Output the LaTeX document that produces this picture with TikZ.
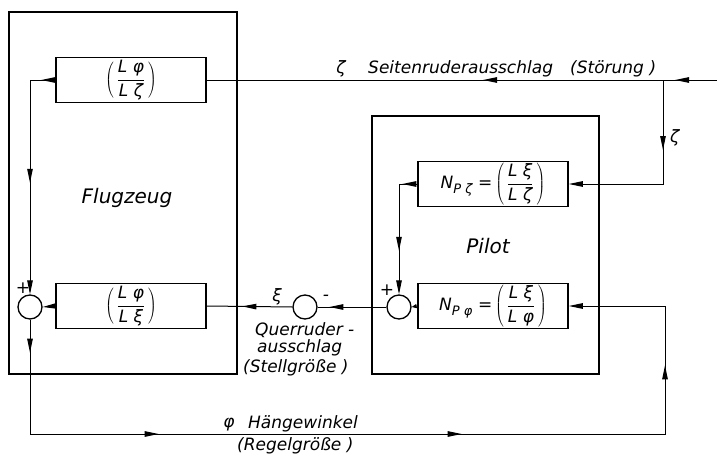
\documentclass[tikz,border=0pt]{standalone}
\usepackage{fontspec}
\setmainfont{DejaVu Sans}
\usetikzlibrary{arrows.meta,decorations.markings}
\begin{document}
\begin{tikzpicture}[x=1pt,y=-1pt,
  >={Triangle[length=14pt,width=5.5pt]},
  conn/.style={line width=1pt},
  outerbox/.style={draw, line width=2pt, inner sep=0pt},
  blockbox/.style={draw, line width=1.5pt, minimum width=150pt, minimum height=45pt, inner sep=0pt, font=\fontsize{17}{20}\selectfont\itshape},
  sumnode/.style={draw, circle, line width=1.3pt, minimum size=24pt, inner sep=0pt},
  lbl/.style={font=\fontsize{17}{20}\selectfont\itshape, inner sep=0pt},
  biglbl/.style={font=\fontsize{20}{24}\selectfont\itshape, inner sep=0pt},
]
\useasboundingbox (0,0) rectangle (717,455);
% outer boxes
\node[outerbox, minimum width=228pt, minimum height=362pt] (FZ) at (123,193) {};
\node[outerbox, minimum width=227pt, minimum height=258pt] (PI) at (485.5,245) {};
% blocks
\node[blockbox] (B1) at (131,80) {$\displaystyle\left(\mkern3mu\frac{\mbox{L φ}}{\mbox{L ζ}}\mkern3mu\right)$};
\node[blockbox] (B2) at (131,306) {$\displaystyle\left(\mkern3mu\frac{\mbox{L φ}}{\mbox{L ξ}}\mkern3mu\right)$};
\node[blockbox] (B3) at (493,184) {N\raisebox{-5pt}{\fontsize{13}{13}\selectfont P ζ}\,\,=\,$\displaystyle\left(\mkern3mu\frac{\mbox{L ξ}}{\mbox{L ζ}}\mkern3mu\right)$};
\node[blockbox] (B4) at (493,306) {N\raisebox{-5pt}{\fontsize{13}{13}\selectfont P φ}\,\,=\,$\displaystyle\left(\mkern3mu\frac{\mbox{L ξ}}{\mbox{L φ}}\mkern3mu\right)$};
% summing points
\node[sumnode] (S1) at (30,307) {};
\node[sumnode] (S2) at (399,307) {};
\node[sumnode] (S3) at (305,307) {};
% helper coordinates
\coordinate (in) at (717,80);
\coordinate (j1) at (663,80);
\coordinate (c1) at (30,80);
\coordinate (c2) at (399,184);
\coordinate (c3) at (30,434);
\coordinate (c4) at (665,434);
% labels
\node[biglbl, anchor=base] (lFZ) at (127,203) {Flugzeug};
\node[biglbl, anchor=base] (lPI) at (488,253) {Pilot};
\node[lbl, anchor=base] (lz1) at (341,73) {ζ};
\node[lbl, anchor=base west] (lSeit) at (368,73) {Seitenruderausschlag};
\node[lbl, anchor=base west] (lStoer) at (570,73) {(Störung\,\,)};
\node[lbl, anchor=base west] (lz2) at (670,142) {ζ};
\node[lbl, anchor=base] (lxi) at (277,301) {ξ};
\node[lbl, anchor=base] (lmin) at (326,300) {-};
\node[lbl, anchor=base] (lp1) at (23,293) {+};
\node[lbl, anchor=base] (lp2) at (387,295) {+};
\node[lbl, anchor=base west] (lQ1) at (255,335) {Querruder -};
\node[lbl, anchor=base west] (lQ2) at (257,352) {ausschlag};
\node[lbl, anchor=base west] (lQ3) at (243,372) {(Stellgröße )};
\node[lbl, anchor=base] (lphi) at (229,427) {φ};
\node[lbl, anchor=base west] (lH) at (248,428) {Hängewinkel};
\node[lbl, anchor=base west] (lR) at (237,450) {(Regelgröße )};
% connectors
\draw[conn, postaction={decorate}, decoration={markings, mark=at position 42pt with {\arrow{>}}}] (in) -- (j1);
\draw[conn, postaction={decorate}, decoration={markings, mark=at position 180pt with {\arrow{>}}}] (j1) -- (B1.east);
\draw[conn, ->, postaction={decorate}, decoration={markings, mark=at position 70pt with {\arrow{>}}}] (j1) |- (B3.east);
\draw[conn, ->, postaction={decorate}, decoration={markings, mark=at position 14pt with {\arrow{>}}, mark=at position 128pt with {\arrow{>}}}] (B1.west) -- (c1) -- (S1.north);
\draw[conn, ->] (B2.west) -- (S1.east);
\draw[conn, ->, postaction={decorate}, decoration={markings, mark=at position 33pt with {\arrow{>}}, mark=at position 243pt with {\arrow{>}}, mark=at position 546pt with {\arrow{>}}, mark=at position 818pt with {\arrow{>}}}] (S1.south) -- (c3) -- (c4) |- (B4.east);
\draw[conn, -{Triangle[length=5pt,width=4pt]}] (B4.west) -- (S2.east);
\draw[conn, ->, postaction={decorate}, decoration={markings, mark=at position 15pt with {\arrow{>}}, mark=at position 85pt with {\arrow{>}}}] (B3.west) -- (c2) -- (S2.north);
\draw[conn, postaction={decorate}, decoration={markings, mark=at position 57pt with {\arrow{>}}}] (S2.west) -- (S3.east);
\draw[conn, postaction={decorate}, decoration={markings, mark=at position 50pt with {\arrow{>}}}] (S3.west) -- (B2.east);
\end{tikzpicture}
\end{document}
